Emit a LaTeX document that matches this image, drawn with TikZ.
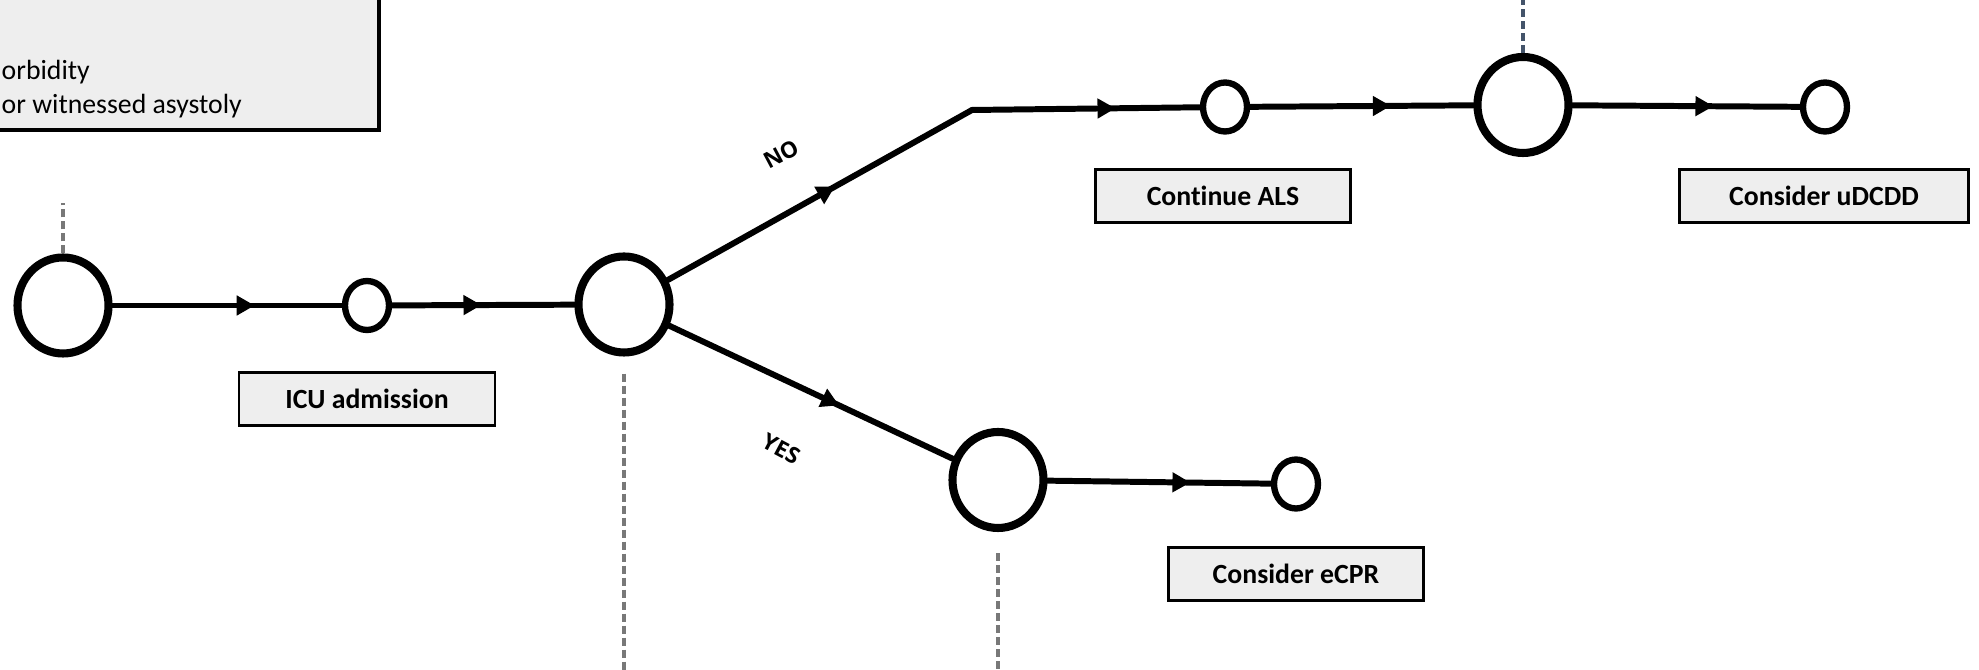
\documentclass[tikz,border=0pt]{standalone}
\usepackage{fontspec}
\setmainfont{Carlito}[Ligatures=NoCommon]
\newfontfamily\branchfont{Open Sans}
\usetikzlibrary{arrows.meta,decorations.markings,shapes.geometric}
\definecolor{boxgray}{RGB}{238,238,238}
\definecolor{guidegray}{RGB}{120,120,120}
\definecolor{guideblue}{RGB}{68,84,106}

\begin{document}
\begin{tikzpicture}[state/.style={draw,ellipse,line width=2.3pt,inner sep=0pt,minimum width=0.91cm,minimum height=0.96cm},
        chance/.style={draw,ellipse,line width=1.8pt,inner sep=0pt,minimum width=0.44cm,minimum height=0.49cm},
        tag/.style={draw,line width=0.65pt,fill=boxgray,minimum height=0.53cm,font=\fontsize{7.9}{9.5}\selectfont\bfseries},
        branch/.style={inner sep=0pt,font=\fontsize{6.4}{8}\branchfont\bfseries},
        flow/.style={line width=1.7pt,line cap=round,postaction={decorate},
            decoration={markings,mark=at position #1 with {\arrow{Triangle[length=1.8mm,width=1.9mm]}}}},
        flow/.default=0.62,
        guide/.style={guidegray,line width=1pt,dash pattern=on 0.8mm off 0.4mm},
        font=\fontsize{7.9}{9.5}\selectfont]
            \useasboundingbox (0,0) rectangle (19.79,6.70);
            \clip (0,0) rectangle (19.79,6.70);

            % criteria box, cut by the page edge
            \draw[line width=0.9pt,fill=boxgray] (-1,5.40) rectangle (3.79,7.2);
            \node[anchor=west,inner sep=0pt] (crit1) at (0.01,5.98) {orbidity};
            \node[anchor=west,inner sep=0pt] (crit2) at (0.01,5.64) {or witnessed asystoly};

            \node[state] (arrest) at (0.63,3.645) {};
            \node[chance] (icu) at (3.67,3.645) {};
            \node[state] (decide) at (6.24,3.655) {};
            \coordinate (bend) at (9.72,5.60);
            \node[chance] (als) at (12.25,5.63) {};
            \node[state] (refract) at (15.23,5.65) {};
            \node[chance] (udcdd) at (18.25,5.63) {};
            \node[state] (eligible) at (9.98,1.90) {};
            \node[chance] (ecpr) at (12.96,1.86) {};

            \node[tag,minimum width=2.56cm] (icutag) at (3.67,2.71) {ICU admission};
            \node[tag,minimum width=2.55cm] (alstag) at (12.23,4.74) {Continue ALS};
            \node[tag,minimum width=2.89cm] (udcddtag) at (18.24,4.74) {Consider uDCDD};
            \node[tag,minimum width=2.55cm] (ecprtag) at (12.96,0.96) {Consider eCPR};

            \node[branch,rotate=28] (no) at (7.81,5.16) {NO};
            \node[branch,rotate=-28] (yes) at (7.81,2.21) {YES};

            \draw[guide] (arrest.north) -- ([yshift=5mm]arrest.north);
            \draw[guide] ([yshift=-1.7mm]decide.south) -- (decide.south |- 0,0);
            \draw[guide] ([yshift=-2.1mm]eligible.south) -- (eligible.south |- 0,0);
            \draw[guide,guideblue] (refract.north) -- (refract.north |- 0,6.70);

            \draw[flow=0.62] (arrest) -- (icu);
            \draw[flow=0.49] (icu) -- (decide);
            \draw[flow=0.55] (decide) -- (bend);
            \draw[flow=0.63] (bend) -- (als);
            \draw[flow=0.63] (als) -- (refract);
            \draw[flow=0.62] (refract) -- (udcdd);
            \draw[flow=0.60] (decide) -- (eligible);
            \draw[flow=0.64] (eligible) -- (ecpr);
        \end{tikzpicture}
\end{document}
